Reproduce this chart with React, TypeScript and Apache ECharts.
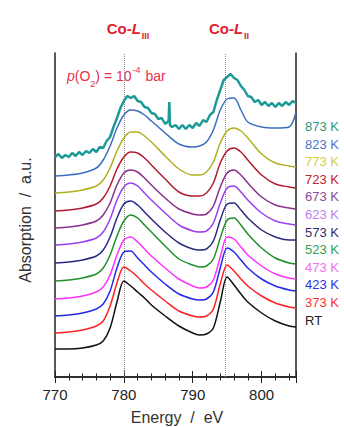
import React, { useEffect, useRef } from "react";
import * as echarts from "echarts";

const ENERGY = [770, 772, 774, 776, 777, 778, 779, 780, 781, 782, 783, 784, 786, 788, 790, 791, 792, 793, 794, 795, 796, 797, 798, 800, 802, 804, 805];

const RT = [28, 28, 29, 32, 36, 49, 75, 96, 91, 85, 79, 72, 61, 51, 44, 42, 43, 49, 75, 100, 92, 83, 75, 64, 56, 51, 50];
const K373 = [44, 45, 47, 51, 56, 71, 94, 110, 106, 100, 93, 87, 76, 66, 61, 60, 61, 68, 93, 112, 106, 98, 91, 81, 74, 70, 69];
const K423 = [61, 62, 64, 68, 73, 86, 109, 125, 126, 119, 112, 105, 93, 83, 78, 77, 78, 85, 109, 129, 125, 117, 109, 98, 91, 87, 86];
const K473 = [78, 79, 81, 85, 90, 102, 122, 137, 140, 135, 128, 121, 109, 98, 91, 89, 90, 97, 120, 140, 138, 130, 122, 111, 103, 99, 98];
const K523 = [96, 97, 99, 103, 109, 122, 141, 156, 162, 159, 152, 145, 131, 118, 112, 110, 111, 118, 139, 157, 159, 152, 143, 129, 119, 114, 113];
const K573 = [114, 115, 117, 121, 127, 140, 159, 173, 176, 172, 165, 158, 145, 134, 128, 127, 128, 136, 157, 173, 174, 167, 159, 147, 140, 137, 137];
const K623 = [132, 133, 135, 139, 145, 158, 177, 190, 194, 191, 184, 177, 164, 152, 146, 145, 146, 154, 174, 189, 191, 185, 177, 164, 156, 153, 152];
const K673 = [149, 150, 152, 156, 162, 174, 192, 204, 207, 205, 199, 192, 179, 168, 163, 162, 163, 171, 190, 204, 207, 202, 194, 180, 172, 169, 168];
const K723 = [166, 167, 169, 173, 179, 191, 208, 220, 225, 224, 219, 212, 198, 185, 181, 181, 184, 194, 214, 226, 229, 225, 217, 202, 193, 190, 189];
const K773 = [184, 185, 187, 191, 197, 209, 226, 239, 245, 245, 241, 235, 221, 208, 202, 202, 205, 215, 234, 246, 249, 246, 239, 223, 214, 211, 210];
const K823 = [201, 202, 204, 209, 217, 231, 249, 262, 267, 266, 262, 256, 244, 233, 230, 231, 235, 247, 267, 278, 279, 267, 255, 250, 249, 250, 265];

const TEAL_E = [770, 770.5, 771, 771.5, 772, 772.5, 773, 773.5, 774, 774.5, 775, 775.5, 776, 776.5, 777, 777.5, 778, 778.5, 779, 779.5, 780, 780.5, 781, 781.5, 782, 782.5, 783, 783.5, 784, 784.5, 785, 785.5, 786, 786.5, 786.6, 786.7, 787, 787.5, 788, 788.5, 789, 789.5, 790, 790.5, 791, 791.5, 792, 792.5, 793, 793.5, 794, 794.5, 795, 795.5, 796, 796.5, 797, 797.5, 798, 798.5, 799, 799.5, 800, 800.5, 801, 801.5, 802, 802.5, 803, 803.5, 804, 804.5, 805];
const K873 = [220, 223, 219, 222, 220, 224, 221, 225, 222, 226, 224, 228, 225, 230, 229, 236, 240, 250, 259, 269, 276, 281, 279, 281, 276, 275, 270, 269, 264, 263, 258, 259, 253, 256, 275, 252, 250, 252, 248, 252, 248, 252, 249, 254, 251, 257, 255, 262, 265, 277, 287, 297, 300, 303, 299, 297, 291, 287, 281, 280, 275, 277, 272, 275, 271, 274, 270, 274, 271, 275, 272, 276, 274];

const NAMES = ["873 K", "823 K", "773 K", "723 K", "673 K", "623 K", "573 K", "523 K", "473 K", "423 K", "373 K", "RT"];
const LINE_COLORS = ["#1c9a96", "#3b6fc0", "#b0b020", "#b01c2c", "#8c2f8c", "#9a40f0", "#2a2a80", "#20902a", "#ff30ff", "#2828e8", "#ff2020", "#111111"];
const LABEL_COLORS = ["#2a9a80", "#4a78c8", "#d0d040", "#c82030", "#8a4a9a", "#c080f0", "#303070", "#30a050", "#f070f0", "#3030e0", "#ff3030", "#222222"];
const SMOOTH_SETS = [K823, K773, K723, K673, K623, K573, K523, K473, K423, K373, RT];

const PEAK_LINES = [780, 794.7];

const FONT = "'Liberation Sans', Arial, sans-serif";

export default function App() {
  const ref = useRef<HTMLDivElement>(null);
  useEffect(() => {
    if (!ref.current) return;
    const chart = echarts.init(ref.current, null, { renderer: "svg" });
    const series: any[] = [];
    series.push({
      type: "line",
      name: NAMES[0],
      data: TEAL_E.map((e, i) => [e, K873[i]]),
      showSymbol: false,
      lineStyle: { color: LINE_COLORS[0], width: 2.5 },
      z: 3,
    });
    SMOOTH_SETS.forEach((vals, k) => {
      const idx = k + 1;
      series.push({
        type: "line",
        name: NAMES[idx],
        data: ENERGY.map((e, i) => [e, vals[i]]),
        showSymbol: false,
        smooth: 0.3,
        lineStyle: { color: LINE_COLORS[idx], width: 1.5 },
        z: 3,
        markLine:
          idx === 11
            ? {
                silent: true,
                symbol: ["none", "none"],
                label: { show: false },
                lineStyle: { type: "dotted", color: "#888", width: 1 },
                data: PEAK_LINES.map((v) => ({ xAxis: v })),
                z: 1,
              }
            : undefined,
      });
    });

    const graphics: any[] = [];
    NAMES.forEach((n, i) => {
      graphics.push({
        type: "text",
        left: 305,
        top: 127 + i * 17.6 - 7,
        style: { text: n, fill: LABEL_COLORS[i], font: `13px ${FONT}` },
      });
    });
    const coRich = {
      a: { fontSize: 15, fontWeight: "bold", fill: "#e0202e", fontFamily: FONT, lineHeight: 18, verticalAlign: "bottom" },
      b: { fontSize: 15, fontWeight: "bold", fontStyle: "italic", fill: "#e0202e", fontFamily: FONT, lineHeight: 18, verticalAlign: "bottom" },
      c: { fontSize: 9, fontWeight: "bold", fill: "#e0202e", fontFamily: FONT, lineHeight: 12, verticalAlign: "bottom", padding: [0, 0, -4, 1] },
    };
    graphics.push({
      type: "text",
      x: 128,
      y: 27,
      style: { text: "{a|Co-}{b|L}{c|III}", align: "center", verticalAlign: "middle", rich: coRich },
    });
    graphics.push({
      type: "text",
      x: 229,
      y: 27,
      style: { text: "{a|Co-}{b|L}{c|II}", align: "center", verticalAlign: "middle", rich: coRich },
    });
    graphics.push({
      type: "text",
      x: 67,
      y: 76,
      style: {
        text: "{i|p}{n|(O}{s|2}{n|) = 10}{u|-4}{n| bar}",
        verticalAlign: "middle",
        rich: {
          i: { fontSize: 14, fontStyle: "italic", fill: "#e8304a", fontFamily: FONT, lineHeight: 16 },
          n: { fontSize: 14, fill: "#e8304a", fontFamily: FONT, lineHeight: 16 },
          s: { fontSize: 9, fill: "#e8304a", fontFamily: FONT, lineHeight: 10, verticalAlign: "bottom", padding: [0, 0, -4, 0] },
          u: { fontSize: 9, fill: "#e8304a", fontFamily: FONT, lineHeight: 10, verticalAlign: "top", padding: [-3, 1, 0, 1] },
        },
      },
    });
    graphics.push({
      type: "text",
      x: 177,
      y: 417,
      style: { text: "Energy  /  eV", align: "center", verticalAlign: "middle", fill: "#333", font: `16px ${FONT}` },
    });
    graphics.push({
      type: "text",
      x: 25,
      y: 220,
      rotation: Math.PI / 2,
      style: { text: "Absorption  /  a.u.", align: "center", verticalAlign: "middle", fill: "#333", font: `16px ${FONT}` },
    });

    const tickCommon = {
      axisTick: { show: true, inside: true, length: 6, lineStyle: { color: "#222", width: 1 } },
      minorTick: { show: true, splitNumber: 5, length: 3.5, lineStyle: { color: "#222", width: 1 } },
    };

    chart.setOption({
      animation: false,
      grid: { left: 55, right: 48, top: 53, bottom: 50 },
      xAxis: [
        {
          type: "value",
          min: 770,
          max: 805,
          interval: 10,
          position: "bottom",
          axisLine: { show: true, lineStyle: { color: "#222", width: 1.5 } },
          ...tickCommon,
          splitLine: { show: false },
          axisLabel: { show: true, margin: 10, fontSize: 15, color: "#222", fontFamily: FONT, showMaxLabel: false },
        },
        {
          type: "value",
          min: 770,
          max: 805,
          interval: 10,
          position: "top",
          axisLine: { show: true, lineStyle: { color: "#222", width: 1.5 } },
          ...tickCommon,
          splitLine: { show: false },
          axisLabel: { show: false },
        },
      ],
      yAxis: [
        {
          type: "value",
          min: 0,
          max: 324,
          position: "left",
          axisLine: { show: true, lineStyle: { color: "#222", width: 1.5 } },
          axisTick: { show: false },
          axisLabel: { show: false },
          splitLine: { show: false },
        },
        {
          type: "value",
          min: 0,
          max: 324,
          position: "right",
          axisLine: { show: true, lineStyle: { color: "#222", width: 1.5 } },
          axisTick: { show: false },
          axisLabel: { show: false },
          splitLine: { show: false },
        },
      ],
      series,
      graphic: graphics,
    });
    return () => chart.dispose();
  }, []);
  return <div ref={ref} style={{ width: 344, height: 427, position: "absolute", left: 0, top: 0 }} />;
}
